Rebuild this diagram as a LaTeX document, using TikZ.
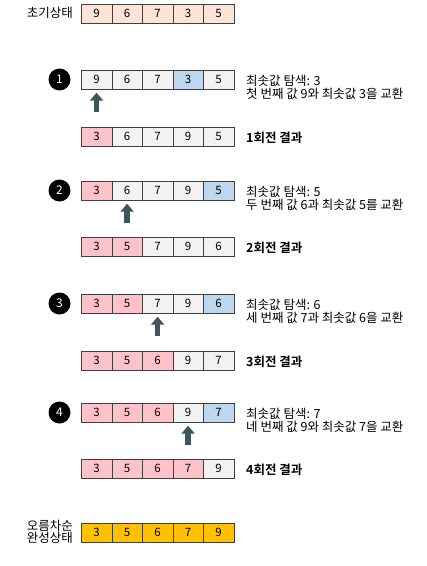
\documentclass[tikz,border=0pt]{standalone}
\usepackage{fontspec}
\setmainfont{Noto Sans CJK KR}[BoldFont={Noto Sans CJK KR Bold}]
\usetikzlibrary{arrows.meta, positioning}

\definecolor{cellO}{RGB}{252,228,214}
\definecolor{cellG}{RGB}{242,242,242}
\definecolor{cellB}{RGB}{189,215,238}
\definecolor{cellP}{RGB}{255,194,201}
\definecolor{cellY}{RGB}{255,192,0}
\definecolor{pointerC}{RGB}{62,86,90}

\tikzset{
  cell/.style={draw=black!75, line width=0.7bp, minimum width=30.5bp, minimum height=19bp,
    inner sep=0pt, anchor=north west, font=\fontsize{11.5bp}{12bp}\selectfont},
  stepnum/.style={circle, fill=black, text=white, minimum size=22bp, inner sep=0pt,
    font=\fontsize{12bp}{12bp}\selectfont},
  note/.style={anchor=west, align=left, inner sep=0pt, font=\fontsize{12.5bp}{12.5bp}\selectfont},
  result/.style={note, font=\fontsize{12.5bp}{12.5bp}\selectfont\bfseries},
  pointer/.style={draw=pointerC, line width=5.5bp, -{Triangle[width=13bp,length=8bp]}, shorten >=3bp}
}

\begin{document}
\begin{tikzpicture}[x=1bp,y=-1bp]
\useasboundingbox (0,0) rectangle (426,566);
\foreach\r/\y/\vals in {init/4/{9/O,6/O,7/O,3/O,5/O},
  s1/70/{9/G,6/G,7/G,3/B,5/G}, r1/127/{3/P,6/G,7/G,9/G,5/G},
  s2/181/{3/P,6/G,7/G,9/G,5/B}, r2/237/{3/P,5/P,7/G,9/G,6/G},
  s3/294/{3/P,5/P,7/G,9/G,6/B}, r3/351/{3/P,5/P,6/P,9/G,7/G},
  s4/403/{3/P,5/P,6/P,9/G,7/B}, r4/459/{3/P,5/P,6/P,7/P,9/G},
  fin/523/{3/Y,5/Y,6/Y,7/Y,9/Y}}
{
  \foreach\v/\c [count=\k] in \vals
    \node[cell, fill=cell\c] (\r-\k) at (81+30.5*\k-30.5,\y) {\v};
}
\node[note, anchor=east] (initlab) at (73,13) {초기상태};
\node[note, anchor=east, align=center] (finlab) at (73,532) {오름차순\\완성상태};
\foreach\s/\y/\mn/\ord/\cur/\mnp/\ry in {1/70/3/첫/9와/3을/127, 2/181/5/두/6과/5를/237,
  3/294/6/세/7과/6을/351, 4/403/7/네/9와/7을/459}
{
  \node[stepnum] (num\s) at (59.5,\y+9.5) {\s};
  \node[note] (note\s) at (246,\y+17.5) {최솟값 탐색: \mn\\\ord{} 번째 값 \cur{} 최솟값 \mnp{} 교환};
  \node[result] (res\s) at (246,\ry+10.5) {\s{}회전 결과};
  \coordinate (tail\s) at ([yshift=-22bp]s\s-\s.south);
  \draw[pointer] (tail\s) -- (s\s-\s.south);
}
\end{tikzpicture}
\end{document}
